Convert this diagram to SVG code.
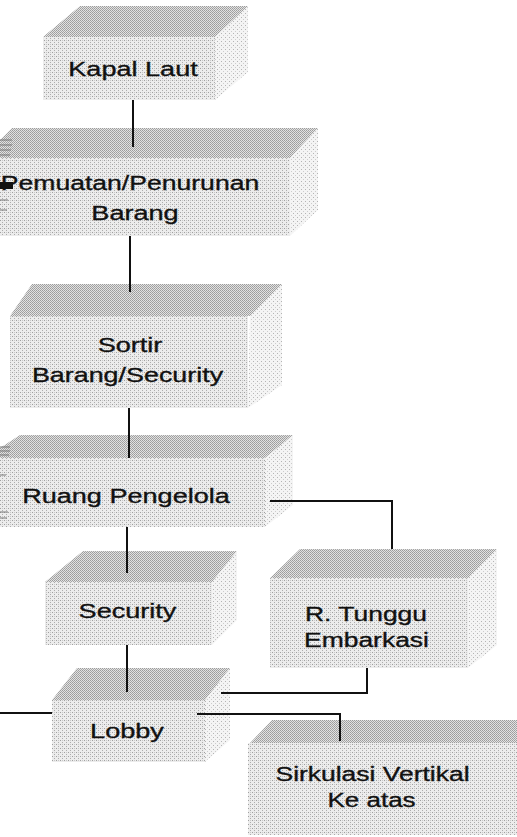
<svg xmlns="http://www.w3.org/2000/svg" width="517" height="837" viewBox="0 0 517 837">
<defs>
<pattern id="dTop" width="2" height="2" patternUnits="userSpaceOnUse">
<rect width="2" height="2" fill="#e2e2e2"/>
<rect x="0" y="0" width="1" height="1" fill="#9c9c9c"/>
<rect x="1" y="1" width="1" height="1" fill="#a6a6a6"/>
</pattern>
<pattern id="dFront" width="4" height="4" patternUnits="userSpaceOnUse">
<rect width="4" height="4" fill="#ececec"/>
<rect x="0" y="0" width="1" height="1" fill="#a0a0a0"/>
<rect x="2" y="2" width="1" height="1" fill="#acacac"/>
<rect x="2" y="0" width="1" height="1" fill="#c8c8c8"/>
</pattern>
<pattern id="dSide" width="4" height="4" patternUnits="userSpaceOnUse">
<rect width="4" height="4" fill="#f4f4f4"/>
<rect x="1" y="1" width="1" height="1" fill="#b4b4b4"/>
<rect x="3" y="3" width="1" height="1" fill="#cccccc"/>
</pattern>
</defs>
<style>
.top{fill:url(#dTop);}
.front{fill:url(#dFront);}
.side{fill:url(#dSide);}
.lbl{font-family:"Liberation Sans",Arial,sans-serif;font-size:21px;fill:#111;stroke:#111;stroke-width:0.35;text-anchor:middle;}
.conn{fill:none;stroke:#111;stroke-width:2;}
.scan{stroke:#777;stroke-width:1;}
</style>

<g id="kapal-laut">
<polygon class="side" points="215,37 248,6 248,72 215,100"/>
<polygon class="top" points="80,6 248,6 215,37 43,37"/>
<rect class="front" x="43" y="37" width="172" height="63"/>
<text class="lbl" transform="translate(133,76) scale(1.29,1)">Kapal Laut</text>
</g>

<g id="pemuatan">
<polygon class="side" points="290,158 318,128 318,210 290,236"/>
<polygon class="top" points="12,128 318,128 290,158 0,158 0,140"/>
<rect class="front" x="0" y="158" width="290" height="78"/>
<text class="lbl" transform="translate(130,190) scale(1.265,1)">Pemuatan/Penurunan</text>
<text class="lbl" transform="translate(135,220) scale(1.29,1)">Barang</text>
<rect x="0" y="182" width="13" height="7" fill="#111"/>
</g>

<g id="sortir">
<polygon class="side" points="250,316 282,284 282,385 248,408"/>
<polygon class="top" points="32,284 282,284 250,316 10,316"/>
<rect class="front" x="10" y="316" width="238" height="92"/>
<text class="lbl" transform="translate(130,352) scale(1.29,1)">Sortir</text>
<text class="lbl" transform="translate(127.5,382) scale(1.28,1)">Barang/Security</text>
</g>

<g id="ruang-pengelola">
<polygon class="side" points="265,458 293,435 293,505 265,527"/>
<polygon class="top" points="20,435 293,435 265,458 0,458 0,448"/>
<rect class="front" x="0" y="458" width="265" height="69"/>
<text class="lbl" transform="translate(126,503) scale(1.29,1)">Ruang Pengelola</text>
</g>

<g id="security">
<polygon class="side" points="212,582 237,551 237,620 212,645"/>
<polygon class="top" points="83,551 237,551 212,582 45,582"/>
<rect class="front" x="45" y="582" width="167" height="63"/>
<text class="lbl" transform="translate(127.5,618) scale(1.29,1)">Security</text>
</g>

<g id="r-tunggu">
<polygon class="side" points="468,578 497,549 497,645 468,668"/>
<polygon class="top" points="300,549 497,549 468,578 270,578"/>
<rect class="front" x="270" y="578" width="198" height="90"/>
<text class="lbl" transform="translate(366,621) scale(1.26,1)">R. Tunggu</text>
<text class="lbl" transform="translate(366.5,647) scale(1.26,1)">Embarkasi</text>
</g>

<g id="lobby">
<polygon class="side" points="205,700 230,668 230,740 205,762"/>
<polygon class="top" points="77,668 230,668 205,700 52,700"/>
<rect class="front" x="52" y="700" width="153" height="62"/>
<text class="lbl" transform="translate(127,738) scale(1.29,1)">Lobby</text>
</g>

<g id="sirkulasi">
<polygon class="top" points="272,720 517,720 517,743 250,743"/>
<rect class="front" x="248" y="743" width="269" height="92"/>
<text class="lbl" transform="translate(372.5,781) scale(1.26,1)">Sirkulasi Vertikal</text>
<text class="lbl" transform="translate(371.5,807) scale(1.24,1)">Ke atas</text>
</g>

<g id="scan-marks">
<line class="scan" x1="0" y1="140" x2="12" y2="140"/>
<line class="scan" x1="0" y1="145" x2="12" y2="145"/>
<line class="scan" x1="0" y1="150" x2="11" y2="150"/>
<line class="scan" x1="0" y1="155" x2="10" y2="155"/>
<line class="scan" x1="0" y1="200" x2="8" y2="200"/>
<line class="scan" x1="0" y1="210" x2="7" y2="210"/>
<line class="scan" x1="0" y1="447" x2="10" y2="447"/>
<line class="scan" x1="0" y1="451" x2="10" y2="451"/>
<line class="scan" x1="0" y1="455" x2="9" y2="455"/>
<line class="scan" x1="0" y1="475" x2="6" y2="475"/>
<line class="scan" x1="0" y1="512" x2="8" y2="512"/>
<line class="scan" x1="0" y1="518" x2="7" y2="518"/>
</g>

<g id="connectors">
<path class="conn" d="M133,100 V147"/>
<path class="conn" d="M130,236 V292"/>
<path class="conn" d="M129,408 V458"/>
<path class="conn" d="M127,527 V573"/>
<path class="conn" d="M127,645 V692"/>
<path class="conn" d="M270,501 H392 V549"/>
<path class="conn" d="M221,693 H367 V668"/>
<path class="conn" d="M0,713 H52"/>
<path class="conn" d="M197,714 H340 V741"/>
</g>
</svg>
